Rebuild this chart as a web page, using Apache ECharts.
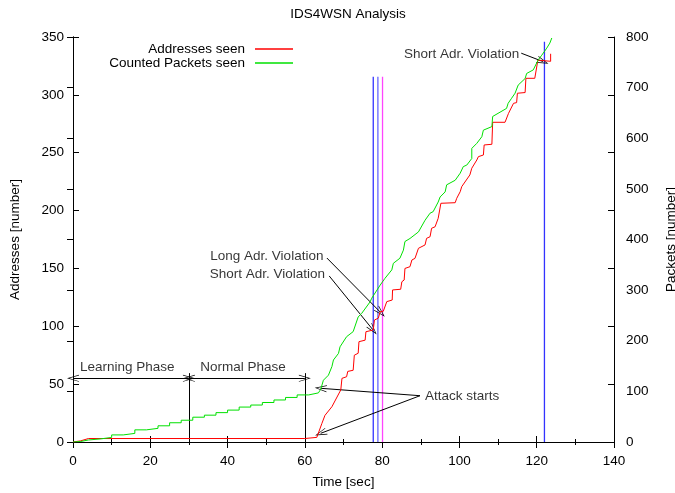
<!DOCTYPE html>
<html>
<head>
<meta charset="utf-8">
<script src="https://cdn.jsdelivr.net/npm/echarts@6/dist/echarts.min.js"></script>
<style>
html,body{margin:0;padding:0;background:#fff;overflow:hidden;}
#c{width:675px;height:493px;}
</style>
</head>
<body>
<div id="c"></div>
<script>
// ---- data ----
const addressesSeen = [
  [0,0],[2,1],[4,3],[60,3],[60,4],[63.1,4],[64.4,16],[65.2,23],[67,30.5],[69.3,45],[69.6,55],[70.8,56.4],[71.1,61],[72.5,62],
  [72.8,75],[73.8,76.7],[74.0,86.7],[75.6,88],[75.8,95.3],[77.7,96.8],[78,105.4],[79,107],[79.5,112.6],[80.3,113],
  [81.2,121.3],[82.6,122.7],[82.7,131.4],[84.8,132],[85.1,138.5],[85.7,140],[85.9,150],[87.2,151.5],[87.7,157.3],
  [88.5,158.7],[89.4,167.4],[89.8,168.8],[91.1,170.3],[91.5,176],[92.4,177.4],[92.8,184.7],[93.7,186],[94.5,193.3],
  [95,194.7],[95.2,206.3],[98.9,206.8],[99.3,210.6],[100.2,216.3],[100.6,220.7],[101,222],[102.7,230.8],[103.2,236.6],
  [103.6,238],[104.5,243.7],[104.9,246.6],[105.3,248],[106.2,248],[106.4,256.7],[108.4,257.3],[108.6,276.3],
  [111.8,276.3],[112.7,284],[114,292.7],[114.8,293.3],[115,301.4],[117,302],[117.2,314.3],[119.5,314.3],[120.3,330],
  [123.6,329],[123.6,335.5]
];
const packetsSeen = [
  [0,0],[2,1],[4,4],[4,6],[7,6],[7,9],[10,9],[10,14],[13,14],[13,17],[16,17],[16,24],[19,24],[19,27],[22,27],[22,32],
  [25,32],[25,38],[28,38],[28,43],[31,43],[31,49],[34,49],[34,53],[37,53],[37,58],[40,58],[40,63],[43,63],[43,69],
  [46,69],[46,73],[49,73],[49,78],[52,78],[52,83],[55,83],[55,88],[58,88],[58,93],[61,93],[61,96],[63.5,97],
  [64.1,104],[64.8,122],[66.1,132],[67,149],[67.4,162],[68.7,175],[69.1,188],[70.8,208],[72.5,218],[73.8,247],
  [74.7,254],[76.9,277],[77.3,284],[79.5,310],[80.7,323],[82.5,340],[82.9,353],[84.6,363],[85.5,379],[85.9,396],
  [87.2,402],[89.4,415],[91.1,438],[92.4,452],[93.2,455],[94.5,474],[95,484],[96.3,494],[96.7,508],[98.9,517],
  [100.2,531],[101,544],[101.9,547],[103.2,560],[103.2,580],[104.5,590],[105.8,603],[106.2,616],[108.4,623],
  [108.6,643],[112.2,659],[112.6,669],[113.5,679],[114.4,689],[115.2,705],[117,718],[117.4,728],[119.1,735],
  [120.4,755],[121.3,764],[122.6,778],[123.4,788],[123.9,798]
];
// violation marker lines: [time, address axis]
const violationBlue1 = [[77.7,0],[77.7,315.7]];
const violationBlue2 = [[78.9,0],[78.9,315.7]];
const violationMagenta = [[80.1,0],[80.1,315.7]];
const violationBlue3 = [[122.0,0],[122.0,346]];
// annotation labels [time, address, text]
const labelsLeftAligned = [[1.8,64.6,'Learning Phase'],[32.9,64.6,'Normal Phase'],[91.1,39.2,'Attack starts']];
const labelsRightAligned = [[64.8,160.2,'Long Adr. Violation'],[65.2,145,'Short Adr. Violation'],[115.5,335.3,'Short Adr. Violation']];
// arrows [x1,y1,x2,y2]
const arrowsSingle = [
  [89.8,40,64.1,46.4],[89.8,40,64.1,7.5],
  [65.7,159,79.6,112],[66.3,143.5,77.6,97],
  [116,336,121.6,328.8]
];
const arrowsDouble = [[0,55,30,55],[30,55,60,55]];
const phaseBounds = [[30,0,30,59.5],[60,0,60,59.5]];
const xTicks = {min:0,max:140,interval:20};
const yTicks = {min:0,max:350,interval:50};
const y2Ticks = {min:0,max:800,interval:100};

// ---- chart ----
const FONT = 'Liberation Sans, Arial, Helvetica, sans-serif';
const FS = 13.5;
const head = 'path://M0,10 L5,0 L10,10 L9,10 L5,2 L1,10 Z';
const chart = echarts.init(document.getElementById('c'), null, {renderer:'canvas'});
const txt = {color:'#000',fontSize:FS,fontFamily:FONT};
const axisCommon = {
  axisLine:{show:true,lineStyle:{color:'#000',width:1}},
  axisTick:{show:true,inside:true,length:6,lineStyle:{color:'#000'}},
  splitLine:{show:false},
  axisLabel:Object.assign({},txt)
};
const markLineData = [];
arrowsSingle.forEach(a=>markLineData.push([{coord:[a[0],a[1]],symbol:'none'},{coord:[a[2],a[3]],symbol:head}]));
arrowsDouble.forEach(a=>markLineData.push([{coord:[a[0],a[1]],symbol:head},{coord:[a[2],a[3]],symbol:head}]));
phaseBounds.forEach(a=>markLineData.push([{coord:[a[0],a[1]],symbol:'none'},{coord:[a[2],a[3]],symbol:'none'}]));

function vline(data,color){
  return {type:'line',data:data,xAxisIndex:0,yAxisIndex:0,symbol:'none',silent:true,
    lineStyle:{color:color,width:1.3},animation:false,z:3};
}
chart.setOption({
  animation:false,
  backgroundColor:'#fff',
  title:{text:'IDS4WSN Analysis',left:343,textAlign:'center',top:2,
    textStyle:Object.assign({fontWeight:'normal'},txt)},
  grid:{left:73,right:61,top:37,bottom:51,containLabel:false,outerBoundsMode:'none'},
  legend:[
    {data:['Addresses seen'],right:377,top:37,itemWidth:38,itemHeight:1.5,icon:'rect',align:'right',
      textStyle:Object.assign({padding:[0,5,0,0]},txt),selectedMode:false},
    {data:['Counted Packets seen'],right:377,top:51,itemWidth:38,itemHeight:1.5,icon:'rect',align:'right',
      textStyle:Object.assign({padding:[0,5,0,0]},txt),selectedMode:false}
  ],
  xAxis:[
    Object.assign({},axisCommon,{type:'value',position:'bottom',min:xTicks.min,max:xTicks.max,interval:xTicks.interval,
      name:'Time [sec]',nameLocation:'middle',nameGap:33,nameTextStyle:Object.assign({},txt),
      minorTick:{show:true,splitNumber:2,length:3,lineStyle:{color:'#000'}},
      axisLabel:Object.assign({margin:12},txt)}),
    Object.assign({},axisCommon,{type:'value',position:'top',min:xTicks.min,max:xTicks.max,interval:xTicks.interval,
      minorTick:{show:true,splitNumber:2,length:3,lineStyle:{color:'#000'}},
      axisLabel:{show:false}})
  ],
  yAxis:[
    Object.assign({},axisCommon,{type:'value',position:'left',min:yTicks.min,max:yTicks.max,interval:yTicks.interval,
      name:'Addresses [number]',nameLocation:'middle',nameGap:51,nameRotate:90,nameTextStyle:Object.assign({},txt),
      axisLabel:Object.assign({margin:9},txt)}),
    Object.assign({},axisCommon,{type:'value',position:'right',min:y2Ticks.min,max:y2Ticks.max,interval:y2Ticks.interval,
      name:'Packets [number]',nameLocation:'middle',nameGap:50,nameRotate:90,nameTextStyle:Object.assign({},txt),
      axisLabel:Object.assign({margin:12},txt)}),
    Object.assign({},axisCommon,{type:'value',position:'right',min:yTicks.min,max:yTicks.max,interval:yTicks.interval,
      axisLabel:{show:false}})
  ],
  series:[
    {name:'Addresses seen',type:'line',data:addressesSeen,xAxisIndex:0,yAxisIndex:0,symbol:'none',
      lineStyle:{color:'#ff0000',width:1},itemStyle:{color:'#ff0000'},z:5},
    {name:'Counted Packets seen',type:'line',data:packetsSeen,xAxisIndex:0,yAxisIndex:1,symbol:'none',
      lineStyle:{color:'#00e000',width:1},itemStyle:{color:'#00e000'},z:5},
    vline(violationBlue1,'#3333ff'),
    vline(violationBlue2,'#6666ff'),
    vline(violationMagenta,'#ff44ff'),
    vline(violationBlue3,'#3333ff'),
    {type:'scatter',data:labelsLeftAligned,xAxisIndex:0,yAxisIndex:0,symbolSize:0,silent:true,z:10,
      label:Object.assign({show:true,position:'right',distance:0,formatter:p=>p.data[2]},txt),
      markLine:{silent:true,animation:false,symbolSize:[7,12],label:{show:false},
        lineStyle:{color:'#000',width:1,type:'solid'},emphasis:{disabled:true},data:markLineData}},
    {type:'scatter',data:labelsRightAligned,xAxisIndex:0,yAxisIndex:0,symbolSize:0,silent:true,z:10,
      label:Object.assign({show:true,position:'left',distance:0,formatter:p=>p.data[2]},txt)}
  ]
});
</script>
</body>
</html>
